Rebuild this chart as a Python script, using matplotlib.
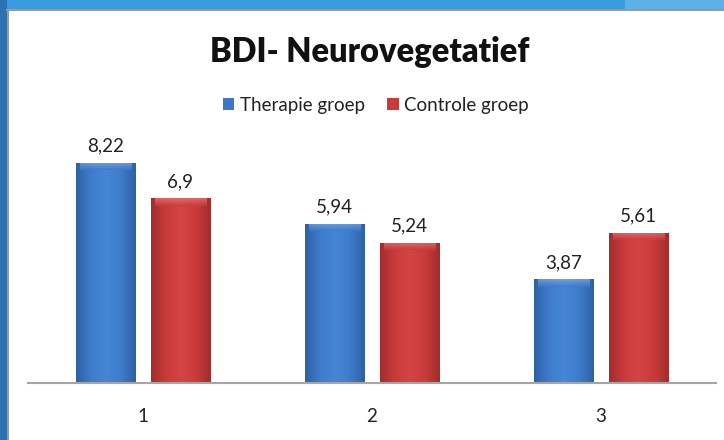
import matplotlib
matplotlib.use("Agg")
import matplotlib.pyplot as plt
import numpy as np
from matplotlib.patches import Rectangle
from matplotlib.colors import LinearSegmentedColormap

categories = ["1", "2", "3"]
therapie = [8.22, 5.94, 3.87]
controle = [6.9, 5.24, 5.61]
labels_therapie = ["8,22", "5,94", "3,87"]
labels_controle = ["6,9", "5,24", "5,61"]
series_names = ["Therapie groep", "Controle groep"]

FONT = ["Lato", "DejaVu Sans"]
plt.rcParams['font.family'] = FONT

W, H = 724, 440
fig = plt.figure(figsize=(W / 100, H / 100), dpi=100)
fig.patch.set_facecolor("white")

# Slide frame
fig.patches.append(Rectangle((0, 1 - 10 / H), 1, 10 / H, transform=fig.transFigure,
                             facecolor="#3a9be0", edgecolor="none", zorder=0))
fig.patches.append(Rectangle((625 / W, 1 - 10 / H), 1, 10 / H, transform=fig.transFigure,
                             facecolor="#5eb1e8", edgecolor="none", zorder=0))
fig.patches.append(Rectangle((0, 0), 7 / W, 1, transform=fig.transFigure,
                             facecolor="#2a72b2", edgecolor="none", zorder=0))
fig.lines.append(plt.Line2D([7 / W, 1], [1 - 10.5 / H, 1 - 10.5 / H], transform=fig.transFigure,
                            color="#9a9a9a", lw=1.5))
fig.lines.append(plt.Line2D([7.5 / W, 7.5 / W], [0, 1 - 10.5 / H], transform=fig.transFigure,
                            color="#9a9a9a", lw=1.5))

ymax = 9.0
ax = fig.add_axes([28.5 / W, (H - 383) / H, (715.5 - 28.5) / W, (383 - 142) / H])
ax.set_xlim(-0.5, 2.5)
ax.set_ylim(0, ymax)
for s in ["left", "right", "top"]:
    ax.spines[s].set_visible(False)
ax.spines["bottom"].set_color("#a6a6a6")
ax.spines["bottom"].set_linewidth(1.5)
ax.set_yticks([])
x = np.arange(len(categories))
ax.set_xticks(x)
ax.set_xticklabels(categories, fontsize=13.5, color="#222222")
ax.tick_params(axis="x", length=0, pad=18)
ax.patch.set_alpha(0)

bw = 60 / 229
off = 37.5 / 229

blue_cmap = LinearSegmentedColormap.from_list("b", ["#2d62a4", "#3f7ccc", "#4686d6", "#3f7ccc", "#2d62a4"])
red_cmap = LinearSegmentedColormap.from_list("r", ["#a32c2c", "#c93b3b", "#d44444", "#c93b3b", "#a32c2c"])


def draw(vals, pos, color, cmap, lighttop, name):
    bars = ax.bar(pos, vals, width=bw, color=color, edgecolor="none", label=name, zorder=2)
    grad = np.linspace(0, 1, 100).reshape(1, -1)
    for b in bars:
        x0, y0, w, h = b.get_x(), b.get_y(), b.get_width(), b.get_height()
        im = ax.imshow(grad, cmap=cmap, extent=[x0, x0 + w, y0, y0 + h], aspect="auto",
                       zorder=2.5)
        im.set_clip_path(b)
        # lighter top bevel
        vgrad = np.linspace(1, 0, 50).reshape(-1, 1)
        th = 0.28
        top = ax.imshow(vgrad, cmap=LinearSegmentedColormap.from_list("t", [color, lighttop]),
                        extent=[x0 + w * 0.07, x0 + w * 0.93, y0 + h - th, y0 + h],
                        aspect="auto", zorder=3, alpha=0.7)
        top.set_clip_path(b)
    return bars


bt = draw(therapie, x - off, "#3d78c8", blue_cmap, "#7eaee8", series_names[0])
bc = draw(controle, x + off, "#c93a3a", red_cmap, "#ea7c7c", series_names[1])

for b, t in zip(bt, labels_therapie):
    ax.annotate(t, (b.get_x() + b.get_width() / 2, b.get_height()), xytext=(0, 6),
                textcoords="offset points", ha="center", va="bottom", fontsize=13.5, color="#222222")
for b, t in zip(bc, labels_controle):
    ax.annotate(t, (b.get_x() + b.get_width() / 2, b.get_height()), xytext=(0, 6),
                textcoords="offset points", ha="center", va="bottom", fontsize=13.5, color="#222222")

fig.text(370 / W, 1 - 52 / H, "BDI- Neurovegetatief", ha="center", va="center",
         fontsize=23.5, fontweight="heavy", color="#111111")

leg = fig.legend(handles=[bt, bc], labels=series_names, loc="center", bbox_to_anchor=(376 / W, 1 - 105 / H),
                 ncol=2, frameon=False, fontsize=13.5, handlelength=0.6, handleheight=0.6,
                 handletextpad=0.3, columnspacing=1.2)
for t in leg.get_texts():
    t.set_color("#222222")

fig.savefig("out.png", dpi=100, facecolor="white")
